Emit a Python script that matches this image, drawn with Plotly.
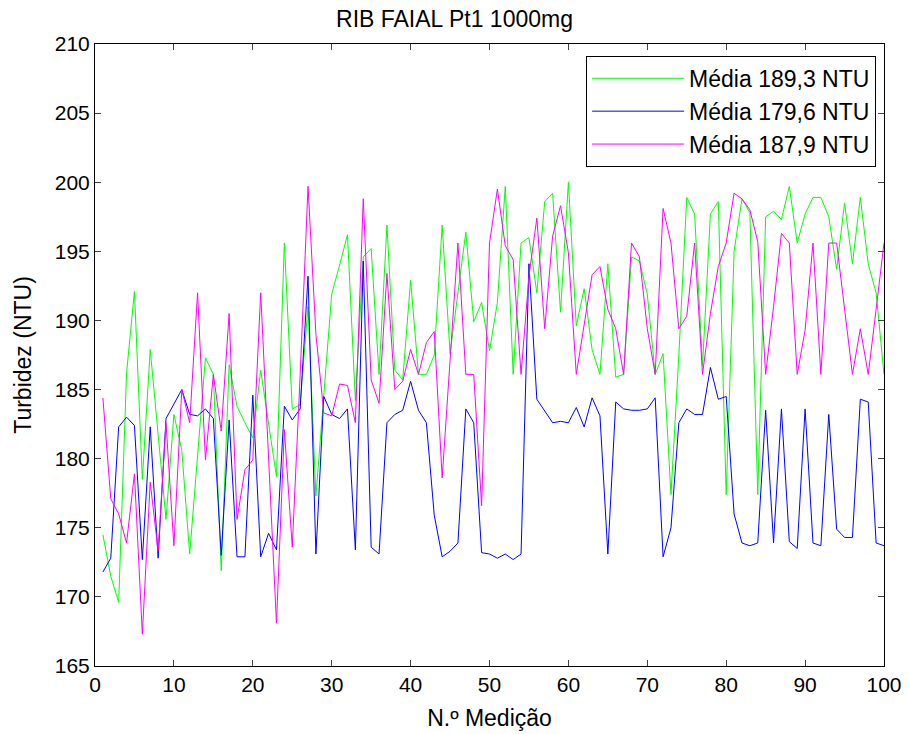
import plotly.graph_objects as go

x_vals = list(range(1, 101))

green = [174.5, 171.5, 169.6, 186.2, 192.1, 178.5, 187.9, 181.5, 175.6, 183.2,
         180.6, 173.1, 180.1, 187.3, 186.1, 171.9, 186.8, 183.8, 182.6, 181.5,
         186.4, 182.6, 178.7, 195.6, 183.6, 183.9, 191.0, 177.3, 184.5, 191.9,
         194.0, 196.2, 184.2, 194.6, 195.2, 186.1, 196.9, 186.4, 185.7, 192.9,
         186.1, 186.1, 187.5, 196.9, 187.6, 192.0, 196.4, 189.9, 191.3, 187.8,
         191.3, 199.7, 186.1, 195.6, 196.0, 192.0, 198.6, 199.2, 190.6, 200.0,
         189.6, 192.3, 187.9, 186.1, 194.1, 185.9, 186.1, 194.6, 194.3, 191.9,
         186.1, 187.6, 177.4, 187.5, 198.9, 197.7, 186.7, 197.7, 198.6, 177.4,
         195.0, 198.8, 197.8, 177.4, 197.5, 197.9, 197.3, 199.7, 195.6, 197.7,
         198.9, 198.9, 197.5, 193.7, 198.5, 194.1, 198.9, 194.1, 192.0, 186.1]

blue = [171.8, 172.8, 182.3, 183.0, 182.4, 172.7, 182.3, 172.8, 182.9, 184.0,
        185.0, 183.2, 183.1, 183.6, 182.9, 173.0, 182.8, 172.9, 172.9, 184.6,
        172.9, 174.6, 173.4, 183.8, 182.8, 183.6, 193.2, 173.1, 184.5, 183.2,
        182.9, 183.6, 173.4, 194.3, 173.6, 173.1, 182.6, 183.2, 183.5, 185.6,
        183.5, 182.6, 175.9, 172.9, 173.3, 173.9, 183.6, 182.6, 173.2, 173.1,
        172.8, 173.1, 172.7, 173.1, 194.1, 184.3, 183.4, 182.6, 182.7, 182.6,
        183.7, 182.3, 184.4, 183.1, 173.1, 184.1, 183.6, 183.5, 183.5, 183.6,
        184.4, 172.9, 175.0, 182.6, 183.6, 183.2, 183.2, 186.6, 184.3, 184.5,
        176.0, 173.9, 173.7, 173.9, 183.5, 173.9, 183.6, 174.0, 173.5, 183.6,
        173.9, 173.7, 183.2, 174.9, 174.3, 174.3, 184.3, 184.1, 173.9, 173.7]

magenta = [184.4, 177.1, 176.0, 173.9, 178.9, 167.3, 178.3, 173.3, 182.6, 173.7,
           185.0, 182.6, 192.0, 179.9, 186.1, 182.0, 190.5, 175.6, 179.2, 179.9,
           192.0, 179.8, 168.1, 182.1, 173.6, 186.0, 199.7, 189.0, 183.3, 183.1,
           185.4, 185.3, 182.6, 198.8, 185.7, 184.0, 193.4, 185.0, 185.6, 187.9,
           186.1, 188.4, 189.2, 178.6, 187.0, 195.6, 186.1, 186.1, 176.6, 195.6,
           199.5, 195.4, 194.4, 186.1, 193.2, 197.4, 189.4, 196.1, 198.3, 194.9,
           186.1, 189.8, 193.3, 193.9, 190.8, 189.4, 186.1, 195.6, 194.6, 189.4,
           186.1, 198.1, 195.6, 189.4, 190.3, 195.6, 186.1, 190.5, 193.9, 195.6,
           199.2, 198.8, 198.0, 195.7, 186.1, 191.0, 196.3, 195.6, 186.1, 189.3,
           195.6, 186.1, 195.6, 195.6, 190.8, 186.1, 189.4, 186.1, 190.8, 195.6]

names = ["Média 189,3 NTU", "Média 179,6 NTU", "Média 187,9 NTU"]
colors = ["#00ff00", "#0000ff", "#ff00ff"]
series = [green, blue, magenta]

x_ticks = [0, 10, 20, 30, 40, 50, 60, 70, 80, 90, 100]
y_ticks = [165, 170, 175, 180, 185, 190, 195, 200, 205, 210]

FAM = "Liberation Sans, Arial, sans-serif"

fig = go.Figure()
for k, (name, col, ys) in enumerate(zip(names, colors, series)):
    fig.add_trace(go.Scatter(x=x_vals, y=ys, mode="lines", name=name,
                             legendgroup="g%d" % k,
                             line=dict(color=col, width=1)))

fig.update_layout(
    width=909, height=734,
    margin=dict(l=95, r=25, t=44, b=68, autoexpand=False),
    paper_bgcolor="white", plot_bgcolor="white",
    font=dict(family=FAM, size=21, color="black"),
    title=dict(text="RIB FAIAL Pt1 1000mg", x=0.5, xanchor="center",
               y=1 - 19 / 734, yanchor="middle", yref="container",
               font=dict(family=FAM, size=23, color="black")),
    showlegend=True,
    legend=dict(x=0.99, y=0.981, xanchor="right", yanchor="top",
                bgcolor="white", bordercolor="black", borderwidth=1,
                font=dict(family=FAM, size=23, color="black"),
                traceorder="grouped", tracegroupgap=0, itemwidth=92),
)

fig.update_xaxes(range=[0, 100], tickvals=x_ticks, ticks="inside", ticklen=6,
                 showline=True, linecolor="black", linewidth=1, mirror="allticks",
                 showgrid=False, zeroline=False, automargin=False,
                 tickfont=dict(family=FAM, size=21),
                 title=dict(text="N.º Medição", standoff=14,
                            font=dict(family=FAM, size=23)))
fig.update_yaxes(range=[165, 210], tickvals=y_ticks, ticks="inside", ticklen=6,
                 showline=True, linecolor="black", linewidth=1, mirror="allticks",
                 showgrid=False, zeroline=False, automargin=False,
                 tickfont=dict(family=FAM, size=21),
                 title=dict(text="Turbidez (NTU)", standoff=16,
                            font=dict(family=FAM, size=23)))

fig.write_html("out.html",
               config={"displayModeBar": False},
               post_script="document.body.style.margin='0';document.body.style.overflow='hidden';")
